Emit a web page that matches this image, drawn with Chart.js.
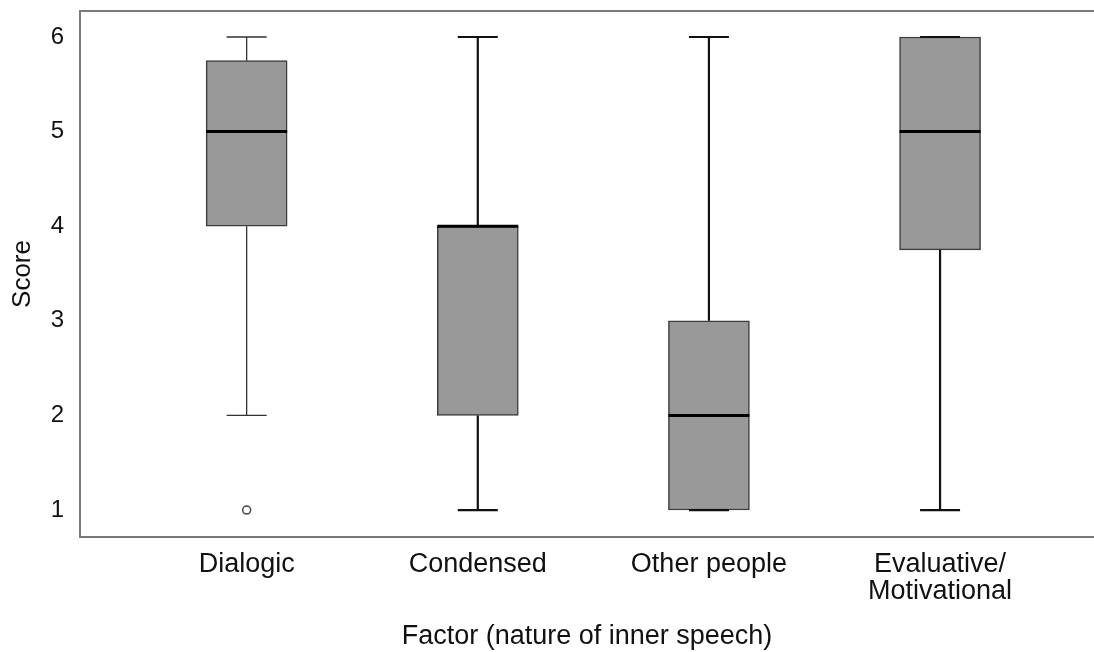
<!DOCTYPE html>
<html>
<head>
<meta charset="utf-8">
<script src="https://cdn.jsdelivr.net/npm/chart.js@4.4.1/dist/chart.umd.min.js"></script>
<style>
  html, body { margin: 0; padding: 0; background: #fff; }
  canvas { display: block; }
</style>
</head>
<body>
<canvas id="boxChart" width="1094" height="652"></canvas>
<script>
// Box plot summaries per factor
const factors = ['Dialogic', 'Condensed', 'Other people', ['Evaluative/', 'Motivational']];
const whiskerLow = [2, 1, 1, 1];
const lowerQuartile = [4, 2, 1, 3.75];
const medians = [5, 4, 2, 5];
const upperQuartile = [5.75, 4, 3, 6];
const whiskerHigh = [6, 6, 6, 6];
const outliers = [[1], [], [], []];
const scoreTicks = [1, 2, 3, 4, 5, 6];

const fontFamily = "'Liberation Sans', Arial, Helvetica, sans-serif";
const axisColor = '#7a7a7a';

const boxData = factors.map((f, i) => ({ x: i, y: [lowerQuartile[i], upperQuartile[i]] }));
const outlierData = [];
outliers.forEach((vals, i) => vals.forEach(v => outlierData.push({ x: i, y: v })));

// whiskers, caps and median lines drawn from the scales
const boxExtras = {
    id: 'boxExtras',
    afterDatasetsDraw(chart) {
        const ctx = chart.ctx;
        const xs = chart.scales.x;
        const ys = chart.scales.y;
        const area = chart.chartArea;
        const boxHalf = 40.5;
        const capHalf = 20;
        const stemWidths = [1.3, 2.2, 2.2, 2.2];

        ctx.save();
        // top frame line
        ctx.strokeStyle = axisColor;
        ctx.lineWidth = 2;
        ctx.beginPath();
        ctx.moveTo(area.left - 1, area.top);
        ctx.lineTo(area.right, area.top);
        ctx.stroke();

        factors.forEach((f, i) => {
            const cx = xs.getPixelForValue(i);
            ctx.lineWidth = stemWidths[i];
            ctx.strokeStyle = i === 0 ? '#333' : '#111';
            ctx.beginPath();
            // upper whisker
            ctx.moveTo(cx, ys.getPixelForValue(upperQuartile[i]));
            ctx.lineTo(cx, ys.getPixelForValue(whiskerHigh[i]));
            ctx.moveTo(cx - capHalf, ys.getPixelForValue(whiskerHigh[i]));
            ctx.lineTo(cx + capHalf, ys.getPixelForValue(whiskerHigh[i]));
            // lower whisker
            ctx.moveTo(cx, ys.getPixelForValue(lowerQuartile[i]));
            ctx.lineTo(cx, ys.getPixelForValue(whiskerLow[i]));
            ctx.moveTo(cx - capHalf, ys.getPixelForValue(whiskerLow[i]));
            ctx.lineTo(cx + capHalf, ys.getPixelForValue(whiskerLow[i]));
            ctx.stroke();

            // median
            ctx.lineWidth = 3;
            ctx.strokeStyle = '#000';
            ctx.beginPath();
            ctx.moveTo(cx - boxHalf, ys.getPixelForValue(medians[i]));
            ctx.lineTo(cx + boxHalf, ys.getPixelForValue(medians[i]));
            ctx.stroke();
        });
        ctx.restore();
    }
};

new Chart(document.getElementById('boxChart'), {
    data: {
        datasets: [{
            type: 'bar',
            data: boxData,
            backgroundColor: '#999999',
            borderColor: '#3c3c3c',
            borderWidth: 1.5,
            borderSkipped: false,
            barThickness: 81,
            order: 2
        }, {
            type: 'scatter',
            data: outlierData,
            pointStyle: 'circle',
            pointRadius: 4,
            backgroundColor: '#fff',
            borderColor: '#444',
            borderWidth: 1.5,
            order: 1
        }]
    },
    options: {
        responsive: false,
        animation: false,
        devicePixelRatio: 1,
        layout: { autoPadding: false, padding: { top: 11, right: 0, bottom: 0, left: 0 } },
        plugins: {
            legend: { display: false },
            tooltip: { enabled: false }
        },
        scales: {
            x: {
                type: 'linear',
                offset: false,
                min: -0.721,
                max: 3.666,
                grid: { display: false },
                border: { display: true, color: axisColor, width: 2 },
                afterBuildTicks: (scale) => {
                    scale.ticks = factors.map((f, i) => ({ value: i }));
                },
                afterFit: (scale) => {
                    scale.height = 115;
                    scale.paddingLeft = 0;
                    scale.paddingRight = 0;
                },
                ticks: {
                    autoSkip: false,
                    maxRotation: 0,
                    padding: 6,
                    color: '#111',
                    font: { family: fontFamily, size: 27, lineHeight: 0.99 },
                    callback: (value) => factors[value]
                },
                title: {
                    display: true,
                    text: 'Factor (nature of inner speech)',
                    color: '#111',
                    font: { family: fontFamily, size: 27, lineHeight: 1 },
                    padding: { top: 0, bottom: 2 }
                }
            },
            y: {
                min: 0.715,
                max: 6.275,
                grid: { display: false },
                border: { display: true, color: axisColor, width: 2 },
                afterBuildTicks: (scale) => {
                    scale.ticks = scoreTicks.map(v => ({ value: v }));
                },
                afterFit: (scale) => {
                    scale.width = 80;
                    scale.paddingTop = 0;
                    scale.paddingBottom = 0;
                },
                ticks: {
                    padding: 8,
                    color: '#111',
                    font: { family: fontFamily, size: 24 }
                },
                title: {
                    display: true,
                    text: 'Score',
                    color: '#111',
                    font: { family: fontFamily, size: 26, lineHeight: 1 },
                    padding: { top: 10, bottom: 0 }
                }
            }
        }
    },
    plugins: [boxExtras]
});
</script>
</body>
</html>
